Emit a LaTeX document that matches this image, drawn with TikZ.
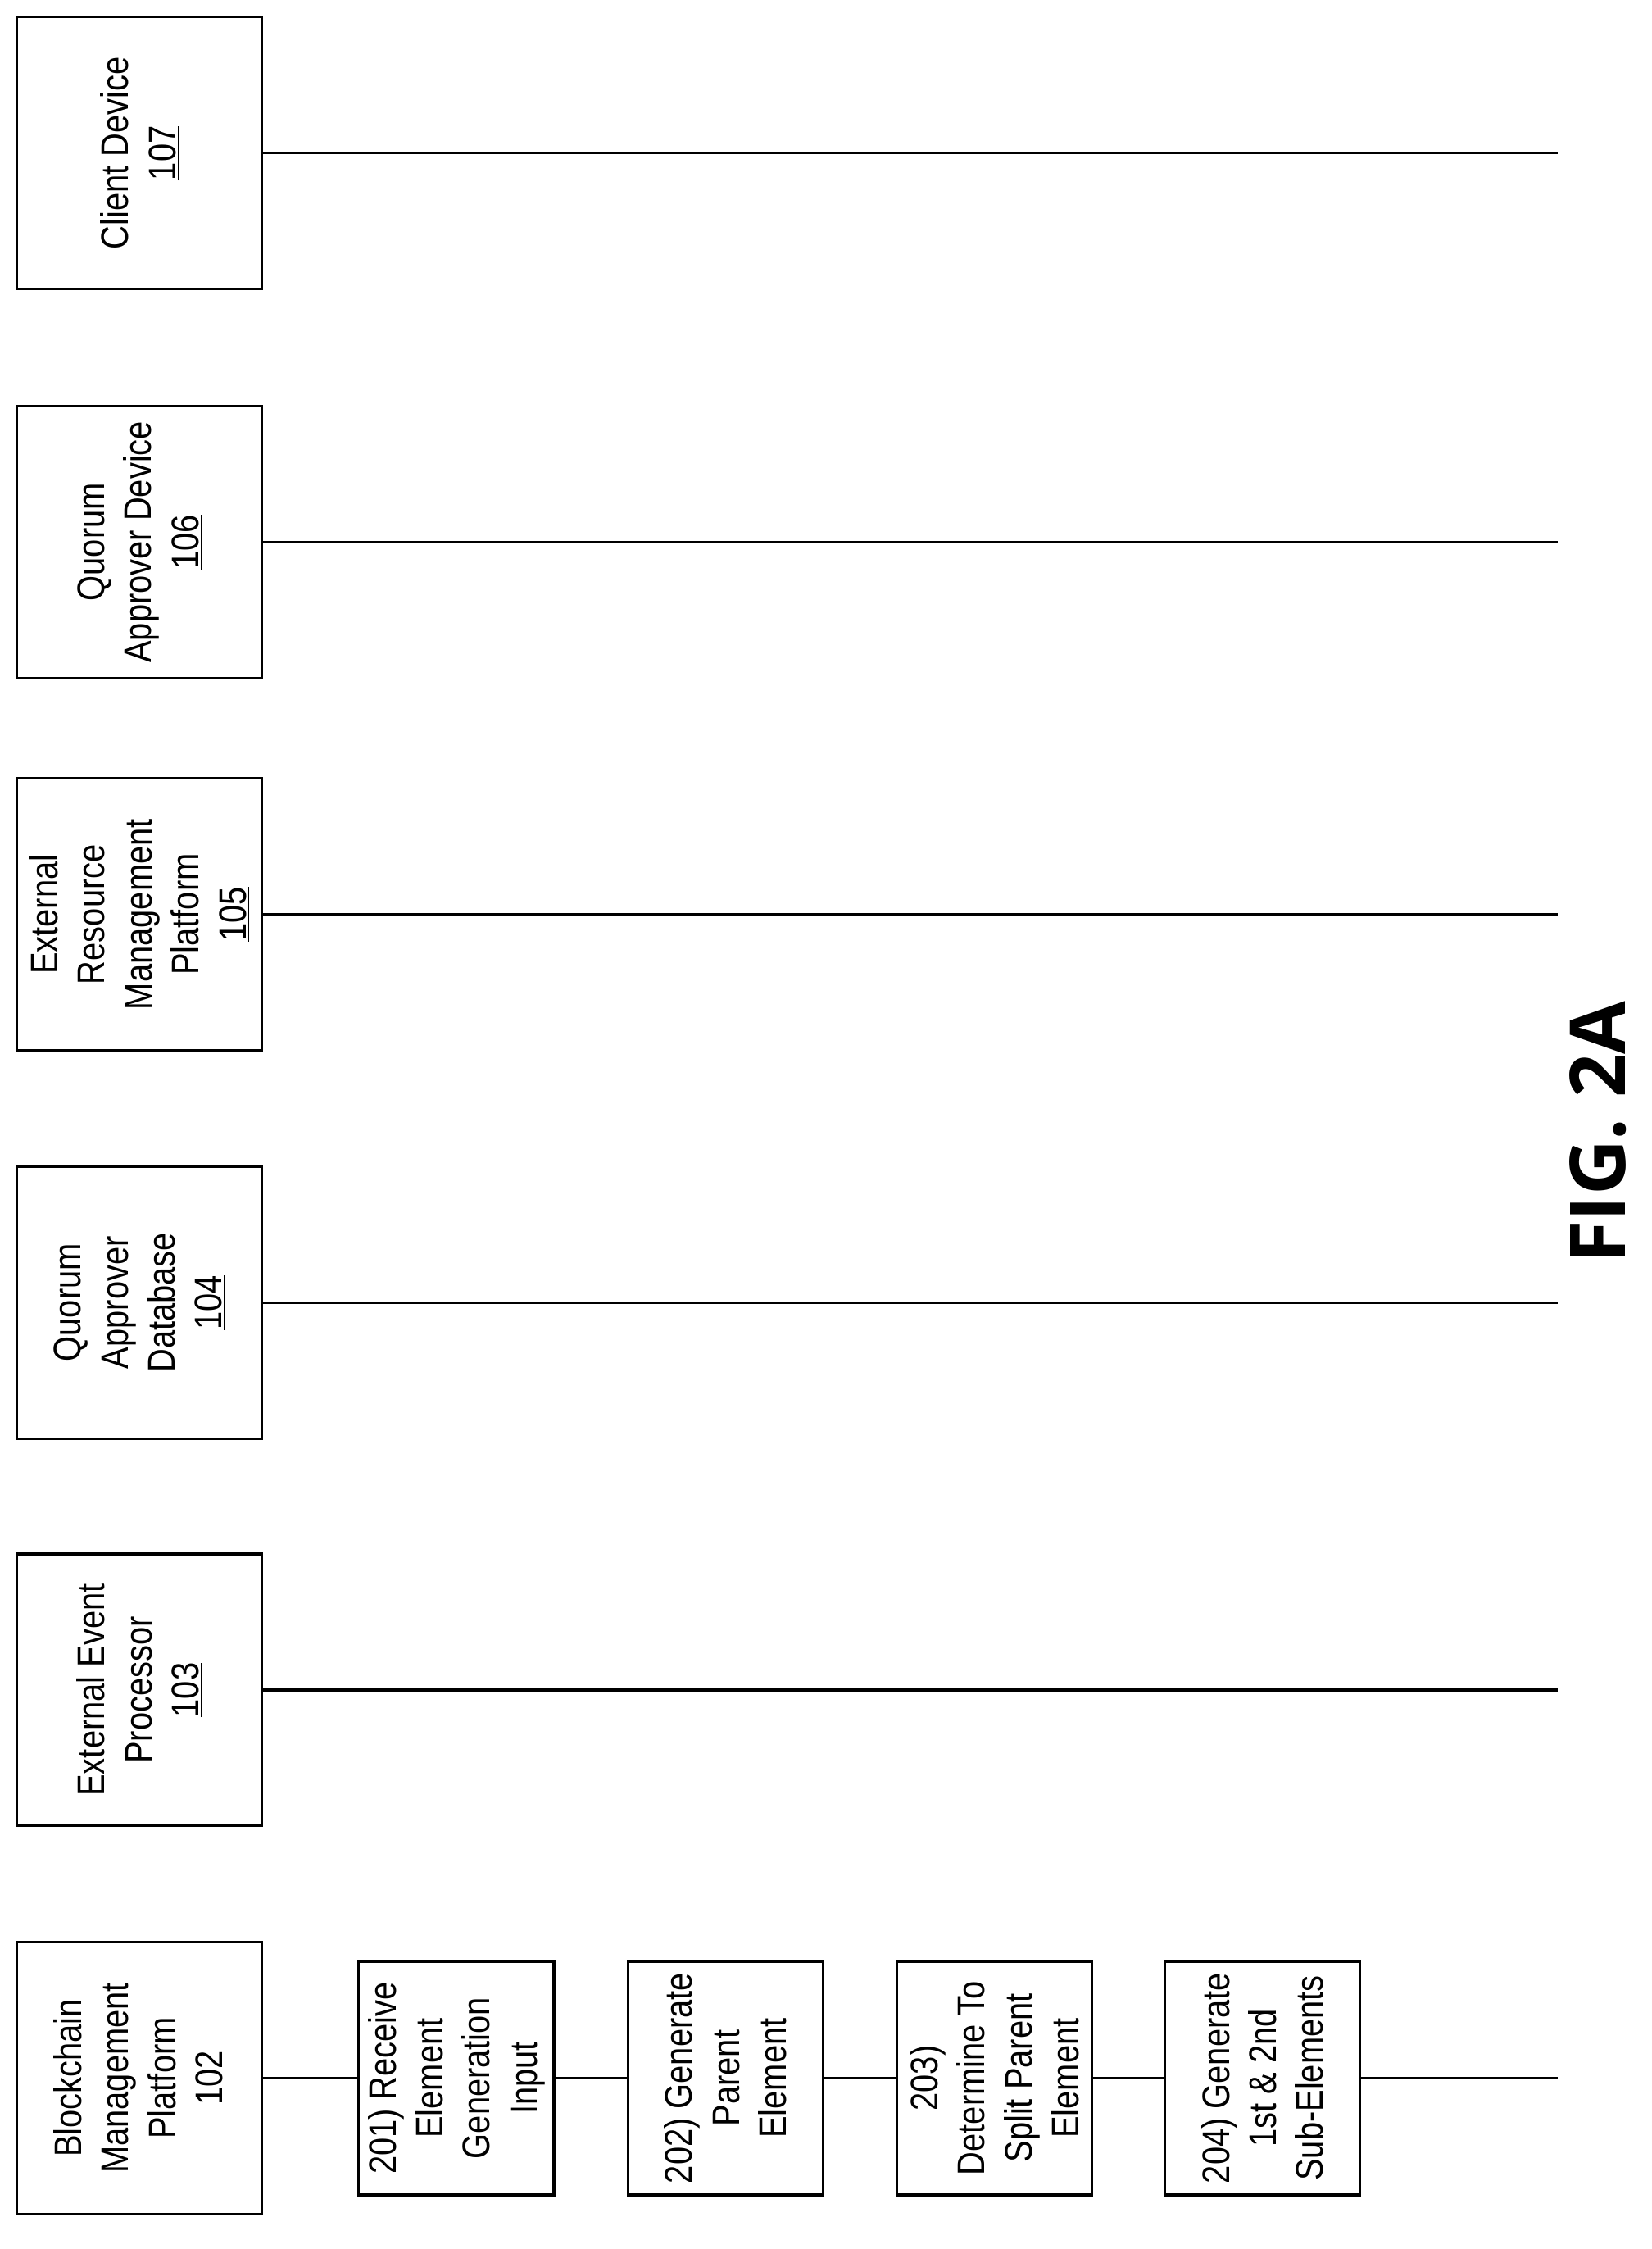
\documentclass[tikz,border=0pt]{standalone}
\usepackage{fontspec}
\setmainfont{Liberation Sans}
\newfontfamily\figfont{Open Sans}
\begin{document}
\begin{tikzpicture}[x=1pt,y=-1pt,line width=1.8pt,
 ent/.style={draw,minimum width=191pt,minimum height=172pt,rotate=90,align=center,font=\fontsize{27}{33}\selectfont,inner sep=2pt},
 stp/.style={draw,minimum width=164pt,minimum height=137pt,rotate=90,align=center,font=\fontsize{27}{33}\selectfont,inner sep=2pt}]
\useasboundingbox (0,0) rectangle (1160,1579);
\newcommand{\nx}[1]{\scalebox{0.85}[1]{#1}}
\node[ent] (e107) at (98,107.5) {\nx{Client Device}\\\nx{\underline{107}}};
\node[ent] (e106) at (98,380.5) {\nx{Quorum}\\\nx{Approver Device}\\\nx{\underline{106}}};
\node[ent] (e105) at (98,642) {\nx{External}\\\nx{Resource}\\\nx{Management}\\\nx{Platform}\\\nx{\underline{105}}};
\node[ent] (e104) at (98,914.5) {\nx{Quorum}\\\nx{Approver}\\\nx{Database}\\\nx{\underline{104}}};
\node[ent] (e103) at (98,1186.5) {\nx{External Event}\\\nx{Processor}\\\nx{\underline{103}}};
\node[ent] (e102) at (98,1459) {\nx{Blockchain}\\\nx{Management}\\\nx{Platform}\\\nx{\underline{102}}};
\node[stp] (s201) at (320.5,1459) {\nx{201) Receive}\\\nx{Element}\\\nx{Generation}\\\nx{Input}};
\node[stp] (s202) at (509.5,1459) {\nx{202) Generate}\\\nx{Parent}\\\nx{Element}};
\node[stp] (s203) at (698.5,1459) {\nx{203)}\\\nx{Determine To}\\\nx{Split Parent}\\\nx{Element}};
\node[stp] (s204) at (886.5,1459) {\nx{204) Generate}\\\nx{1st \& 2nd}\\\nx{Sub-Elements}};
\coordinate (t107) at (1094,107.5);
\coordinate (t106) at (1094,380.5);
\coordinate (t105) at (1094,642);
\coordinate (t104) at (1094,914.5);
\coordinate (t103) at (1094,1186.5);
\coordinate (t102) at (1094,1459);
\foreach \k in {107,106,105,104,103}{\draw (e\k.south) -- (t\k);}
\draw (e102.south) -- (s201.north);
\draw (s201.south) -- (s202.north);
\draw (s202.south) -- (s203.north);
\draw (s203.south) -- (s204.north);
\draw (s204.south) -- (t102);
\node[rotate=90,font=\figfont\bfseries\fontsize{54}{60}\selectfont] (fig) at (1122,795) {FIG. 2A};
\end{tikzpicture}
\end{document}
